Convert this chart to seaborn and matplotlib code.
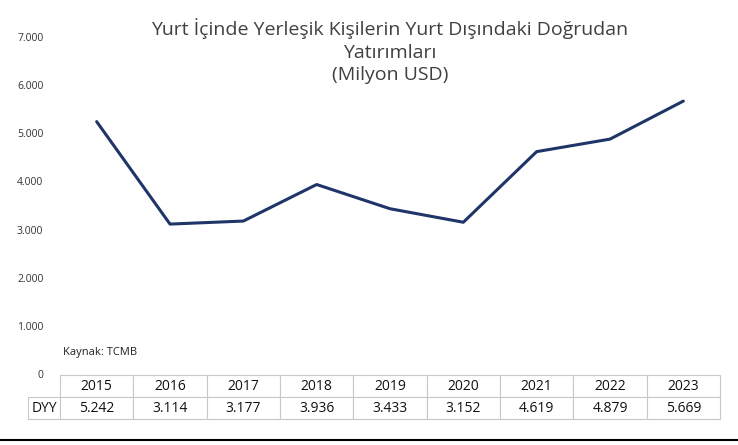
import matplotlib
matplotlib.use("Agg")
import matplotlib.pyplot as plt
import seaborn as sns
import pandas as pd

years = [2015, 2016, 2017, 2018, 2019, 2020, 2021, 2022, 2023]
dyy = [5242, 3114, 3177, 3936, 3433, 3152, 4619, 4879, 5669]
yticks = [0, 1000, 2000, 3000, 4000, 5000, 6000, 7000]

sns.set_style("white")
plt.rcParams['font.family'] = ['Open Sans', 'DejaVu Sans']

def fmt(v):
    return f"{v:,}".replace(",", ".")

df = pd.DataFrame({"year": years, "dyy": dyy})

fig = plt.figure(figsize=(7.38, 4.45), dpi=100)
ax = fig.add_axes([60/738, 1-374/445, 660/738, 337/445])
sns.lineplot(data=df, x="year", y="dyy", ax=ax, color="#1f3467", linewidth=2.2)
ax.set_xlim(2014.5, 2023.5)
ax.set_ylim(0, 7000)
ax.set_yticks(yticks)
ax.set_yticklabels([fmt(v) for v in yticks], fontsize=7.5, color="#333333")
ax.tick_params(axis="y", length=0, pad=12)
ax.set_xticks([])
ax.set_xlabel("")
ax.set_ylabel("")
for s in ax.spines.values():
    s.set_visible(False)

ax.text(0.5, 1.055, "Yurt İçinde Yerleşik Kişilerin Yurt Dışındaki Doğrudan\nYatırımları\n(Milyon USD)",
        transform=ax.transAxes, ha="center", va="top", fontsize=14, color="#404040",
        linespacing=1.3)
ax.text(0.005, 0.055, "Kaynak: TCMB", transform=ax.transAxes, fontsize=8, color="#222222")

cw = 73.3 / 660
lw = 32 / 660
tbl = ax.table(cellText=[["DYY"] + [fmt(v) for v in dyy]],
               colLabels=[""] + [str(y) for y in years],
               colWidths=[lw] + [cw]*9, cellLoc="center",
               bbox=[-lw, -45/337, 1 + lw, 44/337])
tbl.auto_set_font_size(False)
for (r, c), cell in tbl.get_celld().items():
    cell.set_edgecolor("#c8c8c8")
    cell.set_linewidth(0.8)
    cell.get_text().set_fontsize(10)
    cell.get_text().set_color("#111111")
    if r == 0 and c == 0:
        cell.visible_edges = ""

fig.add_artist(plt.Line2D([0, 1], [1-440/445, 1-440/445], color="black", linewidth=1.5,
                          transform=fig.transFigure))

fig.savefig("out.png", dpi=100)
